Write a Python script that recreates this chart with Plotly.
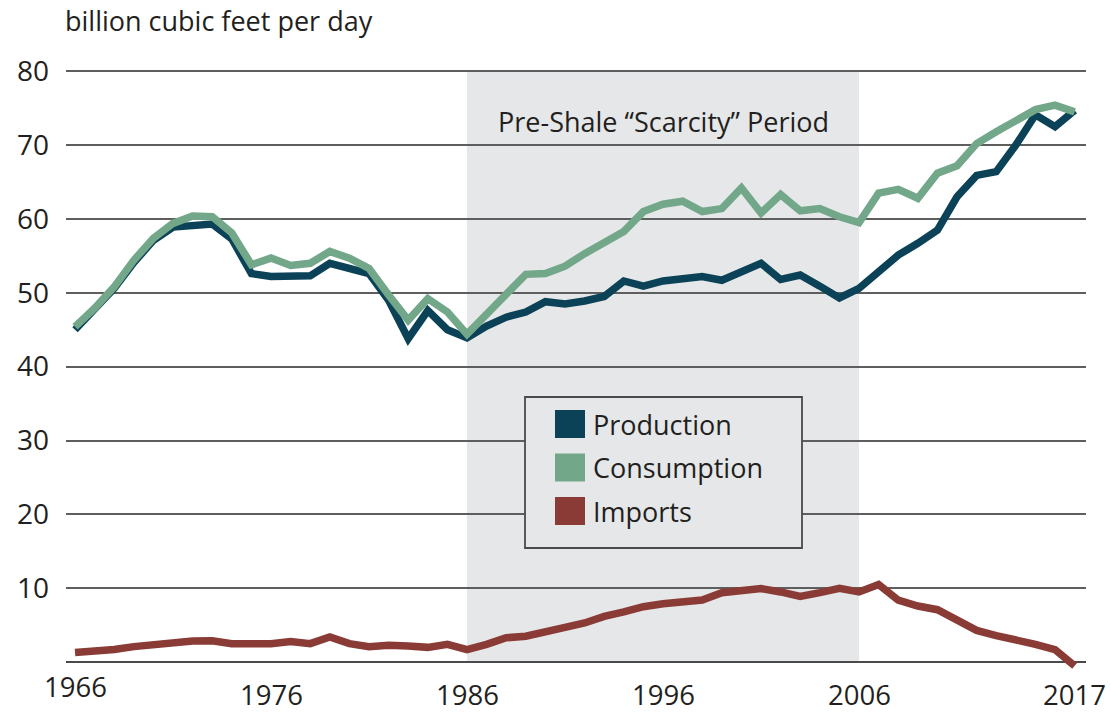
import plotly.graph_objects as go

years = list(range(1966, 2018))
production = [45.0, 47.7, 50.6, 54.1, 57.1, 58.9, 59.0, 59.3, 57.3, 52.6,
              52.2, 52.3, 52.3, 54.0, 53.3, 52.6, 49.0, 43.8, 47.6, 45.0,
              43.9, 45.5, 46.7, 47.4, 48.8, 48.5, 48.9, 49.5, 51.6, 50.9,
              51.6, 51.9, 52.2, 51.7, 52.8, 54.0, 51.8, 52.4, 50.9, 49.3,
              50.6, 52.7, 55.1, 56.7, 58.5, 63.0, 65.9, 66.4, 70.0, 74.1,
              72.5, 74.7]
consumption = [45.4, 47.9, 50.8, 54.4, 57.4, 59.4, 60.4, 60.3, 58.1, 53.8,
               54.7, 53.7, 54.0, 55.6, 54.7, 53.3, 49.7, 46.3, 49.2, 47.4,
               44.4, 47.2, 49.7, 52.5, 52.6, 53.6, 55.3, 56.9, 58.3, 61.0,
               62.0, 62.4, 61.0, 61.4, 64.2, 60.8, 63.3, 61.1, 61.4, 60.3,
               59.5, 63.5, 64.0, 62.8, 66.2, 67.2, 70.2, 71.8, 73.4, 74.8,
               75.4, 74.5]
imports = [1.3, 1.4, 1.7, 2.1, 2.4, 2.6, 2.85, 2.9, 2.5, 2.5,
           2.5, 2.8, 2.5, 3.4, 2.5, 2.1, 2.3, 2.2, 2.0, 2.4,
           1.7, 2.4, 3.3, 3.5, 4.2, 4.7, 5.3, 6.2, 6.8, 7.5,
           7.9, 8.05, 8.4, 9.4, 9.8, 9.95, 9.5, 8.9, 9.4, 10.0,
           9.5, 10.5, 8.4, 7.6, 7.1, 5.6, 4.3, 3.6, 3.1, 2.4,
           1.7, -0.5]

series_names = ["Production", "Consumption", "Imports"]
series_colors = ["#0b4257", "#72a78a", "#8a3b36"]
x_tick_labels = ["1966", "1976", "1986", "1996", "2006", "2017"]
y_tick_vals = [10, 20, 30, 40, 50, 60, 70, 80]
shade_period = [1986, 2006]
shade_label = "Pre-Shale \u201cScarcity\u201d Period"
y_title = "billion cubic feet per day"

FONT = "Open Sans"
TXT = "#231f20"
W, H = 1111, 713
ML, MR, MT, MB = 66, 25, 69, 42
PW, PH = W - ML - MR, H - MT - MB


def px_x(p):
    return (p - ML) / PW


def px_y(p):
    return 1 - (p - MT) / PH


fig = go.Figure()
data = {"Production": production, "Consumption": consumption, "Imports": imports}
for name in ["Imports", "Production", "Consumption"]:
    c = series_colors[series_names.index(name)]
    fig.add_trace(go.Scatter(x=years, y=data[name], mode="lines", name=name,
                             line=dict(color=c, width=7.5), showlegend=False,
                             hoverinfo="skip"))

shapes = [dict(type="rect", xref="x", yref="y", x0=shade_period[0], x1=shade_period[1],
               y0=0, y1=80, fillcolor="#e6e7e8", line=dict(width=0), layer="below")]

annotations = []
# y-axis title
annotations.append(dict(text=y_title, xref="paper", yref="paper", x=px_x(63), y=px_y(21),
                        xanchor="left", yanchor="middle", showarrow=False,
                        font=dict(family=FONT, size=27, color=TXT)))
# shaded label
annotations.append(dict(text=shade_label, xref="x", yref="paper",
                        x=(shade_period[0] + shade_period[1]) / 2, y=px_y(121),
                        xanchor="center", yanchor="middle", showarrow=False,
                        font=dict(family=FONT, size=27, color=TXT)))
# x tick labels
for lab in x_tick_labels:
    ypix = 686 if lab == x_tick_labels[0] else 694.5
    annotations.append(dict(text=lab, xref="x", yref="paper", x=int(lab), y=px_y(ypix),
                            xanchor="center", yanchor="middle", showarrow=False,
                            font=dict(family=FONT, size=27.5, color=TXT)))

# manual legend box
shapes.append(dict(type="rect", xref="paper", yref="paper",
                   x0=px_x(525), x1=px_x(802), y0=px_y(548), y1=px_y(397),
                   fillcolor="#e6e7e8", line=dict(color="#4a4a4a", width=1.8), layer="above"))
for i, name in enumerate(series_names):
    top = 410 + i * 43.5
    shapes.append(dict(type="rect", xref="paper", yref="paper",
                       x0=px_x(555), x1=px_x(585), y0=px_y(top + 28), y1=px_y(top),
                       fillcolor=series_colors[i], line=dict(width=0), layer="above"))
    annotations.append(dict(text=name, xref="paper", yref="paper", x=px_x(591),
                            y=px_y(top + 14), xanchor="left", yanchor="middle",
                            showarrow=False, font=dict(family=FONT, size=27, color=TXT)))

fig.update_layout(
    width=W, height=H,
    margin=dict(l=ML, r=MR, t=MT, b=MB),
    paper_bgcolor="white", plot_bgcolor="white",
    shapes=shapes, annotations=annotations,
    xaxis=dict(range=[1965.54, 2017.58], showgrid=False, zeroline=False,
               showticklabels=False, ticks="", showline=False, fixedrange=True),
    yaxis=dict(range=[-1.2, 80.3], tickvals=y_tick_vals, showgrid=True,
               gridcolor="#5e5e5e", gridwidth=1.6, zeroline=True,
               zerolinecolor="#4a4a4a", zerolinewidth=1.8, showline=False,
               ticks="", ticklabelstandoff=16,
               tickfont=dict(family=FONT, size=28, color=TXT), fixedrange=True),
    showlegend=False,
)

fig.write_html(
    "out.html",
    config={"displayModeBar": False},
    post_script="document.body.style.margin='0';document.body.style.padding='0';"
                "document.body.style.overflow='hidden';",
)
